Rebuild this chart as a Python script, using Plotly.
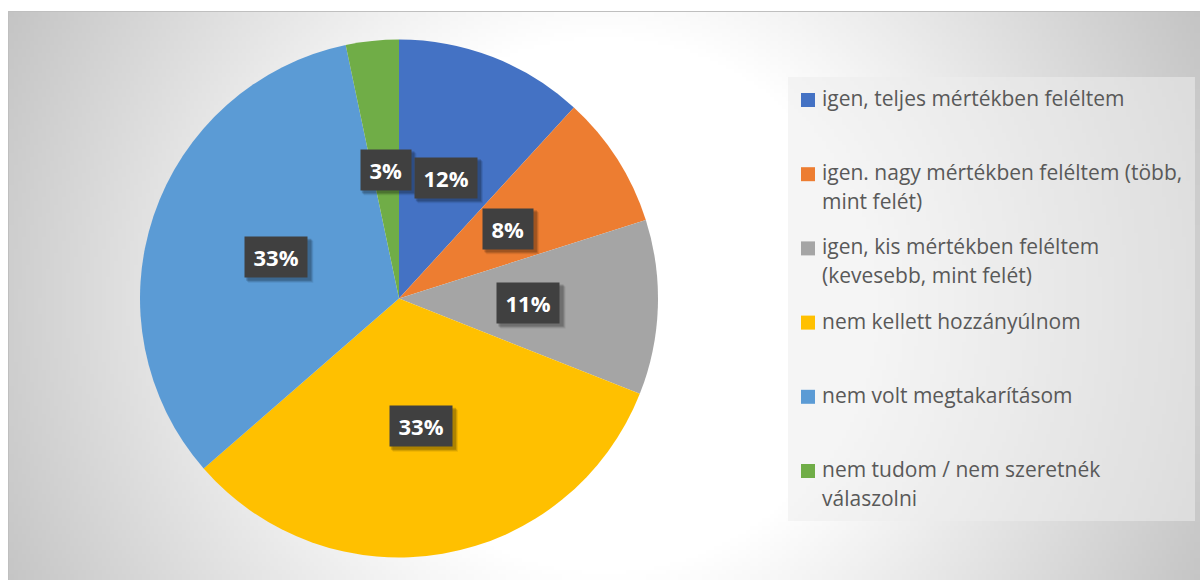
import base64
import struct
import zlib

import numpy as np
import plotly.graph_objects as go

# ---------------- data ----------------
labels = [
    "igen, teljes mértékben feléltem",
    "igen. nagy mértékben feléltem (több,\nmint felét)",
    "igen, kis mértékben feléltem\n(kevesebb, mint felét)",
    "nem kellett hozzányúlnom",
    "nem volt megtakarításom",
    "nem tudom / nem szeretnék\nválaszolni",
]
values = [11.8, 8.3, 10.9, 32.6, 33.1, 3.3]
colors = ["#4472C4", "#ED7D31", "#A5A5A5", "#FFC000", "#5B9BD5", "#70AD47"]

# ---------------- geometry (pixels) ----------------
W, H = 1200, 580
CX, CY, R = 399, 298.5, 259          # pie centre and radius
FRAME = (8, 11, W, H)                  # chart frame


def px(x):
    return x / W


def py(y):
    return 1 - y / H


# ---------------- background radial gradient (PNG built in memory) ----------------
def gradient_png(x0, y0, x1, y1, step=4):
    w = int((x1 - x0) / step)
    h = int((y1 - y0) / step)
    xs = x0 + (np.arange(w) + 0.5) * (x1 - x0) / w
    ys = y0 + (np.arange(h) + 0.5) * (y1 - y0) / h
    X, Y = np.meshgrid(xs, ys)
    d = np.hypot(X - 604, Y - 305)
    g = 255 - 59 * np.clip((d - 270) / 397, 0, 1)
    g = g.astype(np.uint8)
    raw = b"".join(b"\x00" + g[j].tobytes() for j in range(h))

    def chunk(t, data):
        return (struct.pack(">I", len(data)) + t + data
                + struct.pack(">I", zlib.crc32(t + data) & 0xFFFFFFFF))

    png = (b"\x89PNG\r\n\x1a\n"
           + chunk(b"IHDR", struct.pack(">IIBBBBB", w, h, 8, 0, 0, 0, 0))
           + chunk(b"IDAT", zlib.compress(raw, 9))
           + chunk(b"IEND", b""))
    return "data:image/png;base64," + base64.b64encode(png).decode()


fx0, fy0, fx1, fy1 = FRAME
bg_src = gradient_png(fx0, fy0, fx1, fy1)

# ---------------- figure ----------------
fig = go.Figure()
fig.add_trace(go.Pie(
    labels=[l.replace("\n", " ") for l in labels],
    values=values,
    sort=False,
    direction="clockwise",
    rotation=0,
    marker=dict(colors=colors, line=dict(width=0)),
    textinfo="none",
    hovertemplate="%{label}: %{percent}<extra></extra>",
    showlegend=False,
    domain=dict(x=[px(CX - R), px(CX + R)], y=[py(CY + R), py(CY - R)]),
))

shapes = []
annotations = []

# frame border
shapes.append(dict(type="rect", xref="paper", yref="paper",
                   x0=px(fx0 + 0.5), y0=py(fy1 + 10), x1=px(fx1 + 10), y1=py(fy0 + 0.5),
                   line=dict(color="#BFBFBF", width=1), fillcolor="rgba(0,0,0,0)",
                   layer="below"))

# ---------------- data labels (dark boxes at half radius, mid-angle) ----------------
total = sum(values)
cum = 0.0
label_font = dict(family="Open Sans", size=22, color="white", weight="bold")
for v in values:
    mid = (cum + v / 2) / total
    cum += v
    th = 2 * np.pi * mid
    lx = CX + 0.5 * R * np.sin(th)
    ly = CY - 0.5 * R * np.cos(th)
    txt = f"{round(v / total * 100)}%"
    ndig = len(txt) - 1
    bw = 12.6 * ndig + 27
    half_w = bw / 2 + 6
    half_h = 20.5
    # soft drop shadow behind the box
    for k, a in ((5, 0.08), (4, 0.12), (3, 0.16)):
        shapes.append(dict(type="rect", xref="paper", yref="paper",
                           x0=px(lx - half_w + k - 1), x1=px(lx + half_w + k),
                           y0=py(ly + half_h + k), y1=py(ly - half_h + k - 1),
                           fillcolor=f"rgba(0,0,0,{a})", line=dict(width=0),
                           layer="above"))
    annotations.append(dict(xref="paper", yref="paper", x=px(lx), y=py(ly),
                            xanchor="center", yanchor="middle", showarrow=False,
                            text=f"<b>{txt}</b>", width=bw, borderpad=5,
                            align="center", bgcolor="#404040", font=label_font))

# ---------------- legend (custom box) ----------------
LEG = (788, 77, 1195, 521)
shapes.append(dict(type="rect", xref="paper", yref="paper",
                   x0=px(LEG[0]), x1=px(LEG[2]), y0=py(LEG[3]), y1=py(LEG[1]),
                   fillcolor="rgba(236,236,236,0.55)", line=dict(width=0),
                   layer="below"))
pitch = 74.2
line_gap = 28.7
for i, (lab, col) in enumerate(zip(labels, colors)):
    y_first = 100 + pitch * i
    shapes.append(dict(type="rect", xref="paper", yref="paper",
                       x0=px(801), x1=px(815), y0=py(y_first + 7), y1=py(y_first - 7),
                       fillcolor=col, line=dict(width=0), layer="below"))
    for j, line in enumerate(lab.split("\n")):
        annotations.append(dict(xref="paper", yref="paper",
                                x=px(820), y=py(y_first + line_gap * j - 2),
                                xanchor="left", yanchor="middle", showarrow=False,
                                text=line,
                                font=dict(family="Open Sans", size=21, color="#595959")))

fig.update_layout(
    width=W, height=H,
    margin=dict(l=0, r=0, t=0, b=0),
    paper_bgcolor="white",
    plot_bgcolor="white",
    shapes=shapes,
    annotations=annotations,
    images=[dict(source=bg_src, xref="paper", yref="paper",
                 x=px(fx0), y=py(fy0), sizex=(fx1 - fx0) / W, sizey=(fy1 - fy0) / H,
                 xanchor="left", yanchor="top", sizing="stretch", layer="below")],
)

fig.write_html("out.html",
               config={"displayModeBar": False},
               post_script="document.body.style.margin='0';document.body.style.overflow='hidden';")
